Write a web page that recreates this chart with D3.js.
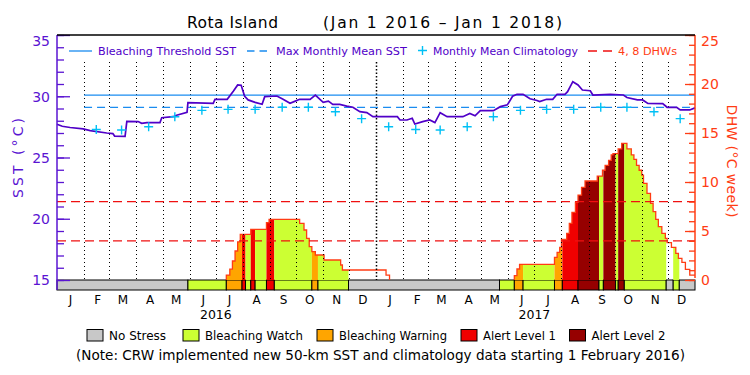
<!DOCTYPE html>
<html>
<head>
<meta charset="utf-8">
<script src="https://cdn.jsdelivr.net/npm/d3@7"></script>
<style>
  body { margin: 0; background: #fff; }
  svg { display: block; }
  text { font-family: "DejaVu Sans", sans-serif; }
</style>
</head>
<body>
<div id="chart"></div>
<script>
// days counted from Jan 1 2016
const sstDay = [0,6,15,30,38,57,64,66,78,80,93,97,103,118,120,133,137,149,150,179,181,195,202,207,211,215,219,227,235,238,252,259,267,273,278,290,296,305,311,316,324,332,339,347,355,362,390,393,401,407,410,419,427,433,439,447,465,473,479,485,500,508,516,522,527,534,542,550,553,561,568,573,582,585,591,597,602,611,614,634,649,653,665,671,677,694,699,710,714,725,731];
const sstValue = [27.71,27.55,27.45,27.33,27.2,27.0,26.95,26.75,26.72,27.95,27.93,27.79,27.85,27.85,28.25,28.33,28.45,28.69,29.47,29.42,29.75,29.75,30.4,30.92,30.9,30.0,29.7,29.5,29.34,29.97,30.02,29.75,29.42,29.6,29.75,29.75,30.1,29.5,29.6,29.34,29.34,29.2,29.1,28.74,28.66,28.33,28.33,28.06,28.06,28.2,27.73,27.93,28.06,27.85,28.66,28.33,28.33,28.6,28.4,28.82,28.82,29.15,29.3,30.0,30.16,30.16,29.8,29.65,29.56,29.75,29.75,30.16,30.16,30.37,31.19,30.92,30.51,30.45,30.1,30.15,30.1,29.9,29.7,29.7,29.42,29.4,29.1,29.1,28.88,28.88,29.05];

// monthly mean climatology, Jan..Dec
const climValue = [27.51,27.28,27.24,27.51,28.33,28.85,28.93,28.93,29.1,29.1,28.74,28.17];
const mmm = 29.1;
const threshold = 30.1;

// degree heating weeks, two episodes
const dhw2016Day = [194,194,198,201,204,207,210,222,240,243,278,283,286,289,292,296,306,325,327,377,381];
const dhw2016Value = [0,0.5,1.1,1.94,2.96,3.9,4.66,5.17,5.85,6.19,5.78,5.1,4.25,3.4,2.89,2.55,2.04,1.53,1.02,0.5,0];
const dhw2017Day = [524,524,527,530,570,573,576,578,584,587,590,594,597,601,605,619,625,628,632,635,637,643,647,653,658,661,664,667,670,672,676,680,683,686,689,693,697,699,704,709,712,716,720,725,731];
const dhw2017Value = [0,0.44,1.12,1.6,2.31,2.82,3.33,4.15,4.76,5.78,6.9,7.93,8.67,9.46,10.1,10.6,11.2,11.7,12.2,12.76,12.9,13.37,13.95,13.37,12.76,12.3,11.7,11.2,10.7,9.86,8.84,7.82,6.97,6.19,5.44,4.76,4.25,3.81,3.33,2.72,2.21,1.8,1.09,0.5,0.5];

// stress level periods: 0 none, 1 watch, 2 warning, 3 alert 1, 4 alert 2
const stressStart = [0,150,194,212,216,222,227,240,249,292,299,334,507,524,534,570,579,597,621,626,640,643,650,698,706,713];
const stressEnd   = [150,194,212,216,222,227,240,249,292,299,334,507,524,534,570,579,597,621,626,640,643,650,698,706,713,731];
const stressLevel = [0,1,2,3,1,3,1,3,1,2,1,0,1,2,1,2,3,4,1,4,1,4,1,0,1,0];
const stressNames = ["No Stress","Bleaching Watch","Bleaching Warning","Alert Level 1","Alert Level 2"];
const stressColors = ["#c8c8c8","#ccff33","#ffa500","#f00000","#960000"];

const monthLetters = ["J","F","M","A","M","J","J","A","S","O","N","D"];
const years = [2016, 2017];

const sstColor = "#5000c8";
const axisPurple = "#5a14d2";
const dhwColor = "#ff3c14";

const width = 750, height = 375;
const plotL = 57, plotR = 695, plotT = 35, plotB = 280, barB = 290;

const t0 = new Date(2016, 0, 1), t1 = new Date(2018, 0, 1);
const day = d => d3.timeDay.offset(t0, d);

const x = d3.scaleTime().domain([t0, t1]).range([plotL, plotR]);
const ySST = d3.scaleLinear().domain([15, 35]).range([plotB, plotT]);
const yDHW = d3.scaleLinear().domain([0, 25]).range([plotB, plotT]);

const svg = d3.select("#chart").append("svg")
  .attr("width", width)
  .attr("height", height);

// scale a text's font size so that it spans the given width
function fit(sel, w) {
  const fs = parseFloat(sel.attr("font-size"));
  const cur = sel.node().getComputedTextLength();
  sel.attr("font-size", (fs * w / cur).toFixed(2));
  return sel;
}

// stress bar
const stress = stressStart.map((s, i) => ({ s, e: stressEnd[i], level: stressLevel[i] }));
svg.append("g").selectAll("rect")
  .data(stress)
  .join("rect")
  .attr("x", d => x(day(d.s)))
  .attr("y", plotB)
  .attr("width", d => x(day(d.e)) - x(day(d.s)))
  .attr("height", barB - plotB)
  .attr("fill", d => stressColors[d.level])
  .attr("stroke", "#000")
  .attr("stroke-width", 1);

// DHW filled by stress colour
const episodes = [
  dhw2016Day.map((d, i) => ({ d, v: dhw2016Value[i] })),
  dhw2017Day.map((d, i) => ({ d, v: dhw2017Value[i] }))
];
const dhwArea = d3.area()
  .curve(d3.curveStepAfter)
  .x(p => x(day(p.d)))
  .y0(yDHW(0))
  .y1(p => yDHW(p.v));
const dhwLine = d3.line()
  .curve(d3.curveStepAfter)
  .x(p => x(day(p.d)))
  .y(p => yDHW(p.v));

const defs = svg.append("defs");
stress.forEach((seg, i) => {
  if (seg.level === 0) return;
  defs.append("clipPath").attr("id", "seg" + i)
    .append("rect")
    .attr("x", x(day(seg.s)))
    .attr("y", plotT)
    .attr("width", x(day(seg.e)) - x(day(seg.s)))
    .attr("height", plotB - plotT);
  episodes.forEach(ep => {
    svg.append("path")
      .datum(ep)
      .attr("clip-path", `url(#seg${i})`)
      .attr("fill", stressColors[seg.level])
      .attr("d", dhwArea);
  });
});

episodes.forEach(ep => {
  svg.append("path")
    .datum(ep)
    .attr("fill", "none")
    .attr("stroke", dhwColor)
    .attr("stroke-width", 1.3)
    .attr("d", dhwLine);
});

// dotted month lines
const monthStarts = d3.timeMonth.range(new Date(2016, 1, 1), t1);
svg.append("g").selectAll("line")
  .data(monthStarts)
  .join("line")
  .attr("x1", d => Math.round(x(d)) + 0.5)
  .attr("x2", d => Math.round(x(d)) + 0.5)
  .attr("y1", 62)
  .attr("y2", plotB)
  .attr("stroke", "#000")
  .attr("stroke-width", d => d.getMonth() === 0 ? 1.5 : 1)
  .attr("stroke-dasharray", d => d.getMonth() === 0 ? "1.5,2" : "1,3");

// 4 and 8 DHW reference lines
svg.append("g").selectAll("line")
  .data([4, 8])
  .join("line")
  .attr("x1", plotL)
  .attr("x2", plotR)
  .attr("y1", d => yDHW(d))
  .attr("y2", d => yDHW(d))
  .attr("stroke", "#f01010")
  .attr("stroke-width", 1.2)
  .attr("stroke-dasharray", "9,5");

// bleaching threshold and MMM
const refStart = x(new Date(2016, 1, 1));
svg.append("line")
  .attr("x1", refStart).attr("x2", plotR)
  .attr("y1", ySST(threshold)).attr("y2", ySST(threshold))
  .attr("stroke", "#1a8cf0").attr("stroke-width", 1.2);
svg.append("line")
  .attr("x1", refStart).attr("x2", plotR)
  .attr("y1", ySST(mmm)).attr("y2", ySST(mmm))
  .attr("stroke", "#1a8cf0").attr("stroke-width", 1.2)
  .attr("stroke-dasharray", "8,5");

// SST
const sst = sstDay.map((d, i) => ({ d, v: sstValue[i] }));
svg.append("path")
  .datum(sst)
  .attr("fill", "none")
  .attr("stroke", sstColor)
  .attr("stroke-width", 1.7)
  .attr("d", d3.line().x(p => x(day(p.d))).y(p => ySST(p.v)));

// climatology crosses
svg.append("g").selectAll("path")
  .data(monthStarts)
  .join("path")
  .attr("transform", m => `translate(${x(d3.timeDay.offset(m, 14))},${ySST(climValue[m.getMonth()])})`)
  .attr("d", "M-4.5,0H4.5M0,-4.5V4.5")
  .attr("stroke", "#00c0f5")
  .attr("stroke-width", 1.4);

// left axis
const gl = svg.append("g").attr("transform", `translate(${plotL},0)`);
gl.append("g")
  .call(d3.axisLeft(ySST).tickValues(d3.range(15, 36)).tickSizeInner(-7).tickSizeOuter(0).tickFormat(""))
  .call(g => g.select(".domain").remove());
gl.append("g")
  .call(d3.axisLeft(ySST).tickValues([15, 20, 25, 30, 35]).tickSizeInner(-13).tickSizeOuter(0).tickPadding(7))
  .call(g => g.select(".domain").remove())
  .call(g => g.selectAll("text").attr("font-size", 14).attr("fill", axisPurple)
    .attr("font-family", "DejaVu Sans").attr("dy", d => d === 35 ? "0.72em" : "0.34em"));
gl.selectAll("line").attr("stroke", axisPurple).attr("stroke-width", 1.3);
gl.append("line").attr("x1", 0).attr("x2", 0).attr("y1", plotT).attr("y2", barB)
  .attr("stroke", axisPurple).attr("stroke-width", 1.5);

// right axis
const gr = svg.append("g").attr("transform", `translate(${plotR},0)`);
gr.append("g")
  .call(d3.axisRight(yDHW).tickValues(d3.range(0, 26)).tickSizeInner(-6).tickSizeOuter(0).tickFormat(""))
  .call(g => g.select(".domain").remove());
gr.append("g")
  .call(d3.axisRight(yDHW).tickValues([0, 5, 10, 15, 20, 25]).tickSizeInner(-10).tickSizeOuter(0).tickPadding(6))
  .call(g => g.select(".domain").remove())
  .call(g => g.selectAll("text").attr("font-size", 14).attr("fill", dhwColor)
    .attr("font-family", "DejaVu Sans").attr("dy", d => d === 25 ? "0.72em" : "0.34em"));
gr.selectAll("line").attr("stroke", dhwColor).attr("stroke-width", 1.3);
gr.append("line").attr("x1", 0).attr("x2", 0).attr("y1", plotT).attr("y2", plotB - 2)
  .attr("stroke", dhwColor).attr("stroke-width", 1.5);

// top frame
svg.append("line").attr("x1", plotL).attr("x2", plotR).attr("y1", plotT).attr("y2", plotT)
  .attr("stroke", "#000").attr("stroke-width", 1.3);

// month letters and years
const monthMids = d3.timeMonth.range(t0, t1).map(m => d3.timeDay.offset(m, 15));
svg.append("g")
  .attr("transform", `translate(0,${barB})`)
  .call(d3.axisBottom(x).tickValues(monthMids).tickSize(0).tickPadding(5)
    .tickFormat(d => monthLetters[d.getMonth()]))
  .call(g => g.select(".domain").remove())
  .call(g => g.selectAll("text").attr("font-size", 12).attr("font-family", "DejaVu Sans").attr("fill", "#000"));

svg.append("g").selectAll("text")
  .data(years)
  .join("text")
  .attr("x", yr => x(new Date(yr, 6, 1)))
  .attr("y", 319)
  .attr("text-anchor", "middle")
  .attr("font-size", 12.5)
  .text(yr => yr);

// axis titles
svg.append("text")
  .attr("transform", "translate(23,158) rotate(-90)")
  .attr("text-anchor", "middle")
  .attr("font-size", 14)
  .attr("fill", axisPurple)
  .attr("textLength", 80)
  .attr("lengthAdjust", "spacing")
  .text("SST (°C)");
svg.append("text")
  .attr("transform", "translate(727,161) rotate(90)")
  .attr("text-anchor", "middle")
  .attr("font-size", 14)
  .attr("fill", dhwColor)
  .attr("textLength", 113)
  .attr("lengthAdjust", "spacing")
  .text("DHW (°C week)");

// title
svg.append("text").attr("x", 187).attr("y", 28).attr("font-size", 15.5)
  .attr("textLength", 91).attr("lengthAdjust", "spacing").text("Rota Island");
svg.append("text").attr("x", 323).attr("y", 28).attr("font-size", 15.5)
  .attr("textLength", 239).attr("lengthAdjust", "spacing").text("(Jan 1 2016 – Jan 1 2018)");

// top legend
const lg = svg.append("g");
lg.append("line").attr("x1", 69).attr("x2", 92).attr("y1", 51).attr("y2", 51)
  .attr("stroke", "#1a8cf0").attr("stroke-width", 1.3);
fit(lg.append("text").attr("x", 98).attr("y", 55).attr("font-size", 11).attr("fill", sstColor)
  .text("Bleaching Threshold SST"), 138);
lg.append("line").attr("x1", 247).attr("x2", 267).attr("y1", 51).attr("y2", 51)
  .attr("stroke", "#1a8cf0").attr("stroke-width", 1.3).attr("stroke-dasharray", "7.5,5");
fit(lg.append("text").attr("x", 276).attr("y", 55).attr("font-size", 11).attr("fill", sstColor)
  .text("Max Monthly Mean SST"), 131);
lg.append("path").attr("transform", "translate(422.5,50.5)").attr("d", "M-4.5,0H4.5M0,-4.5V4.5")
  .attr("stroke", "#00c0f5").attr("stroke-width", 1.4);
fit(lg.append("text").attr("x", 433).attr("y", 55).attr("font-size", 11).attr("fill", sstColor)
  .text("Monthly Mean Climatology"), 145);
lg.append("line").attr("x1", 588).attr("x2", 612).attr("y1", 51).attr("y2", 51)
  .attr("stroke", "#f01010").attr("stroke-width", 1.3).attr("stroke-dasharray", "9,6");
fit(lg.append("text").attr("x", 618).attr("y", 55).attr("font-size", 11).attr("fill", dhwColor)
  .text("4, 8 DHWs"), 59);

// bottom legend
const boxX = [87, 183, 317, 461, 569.5];
const labelW = [57, 98, 108, 73, 74];
const bl = svg.append("g");
stressNames.forEach((name, i) => {
  bl.append("rect")
    .attr("x", boxX[i]).attr("y", 329.5)
    .attr("width", 16).attr("height", 11.5)
    .attr("fill", stressColors[i])
    .attr("stroke", "#000").attr("stroke-width", 1);
  fit(bl.append("text").attr("x", boxX[i] + 22).attr("y", 340).attr("font-size", 12).text(name), labelW[i]);
});

fit(svg.append("text").attr("x", 76).attr("y", 360).attr("font-size", 12)
  .text("(Note: CRW implemented new 50-km SST and climatology data starting 1 February 2016)"), 609);
</script>
</body>
</html>
